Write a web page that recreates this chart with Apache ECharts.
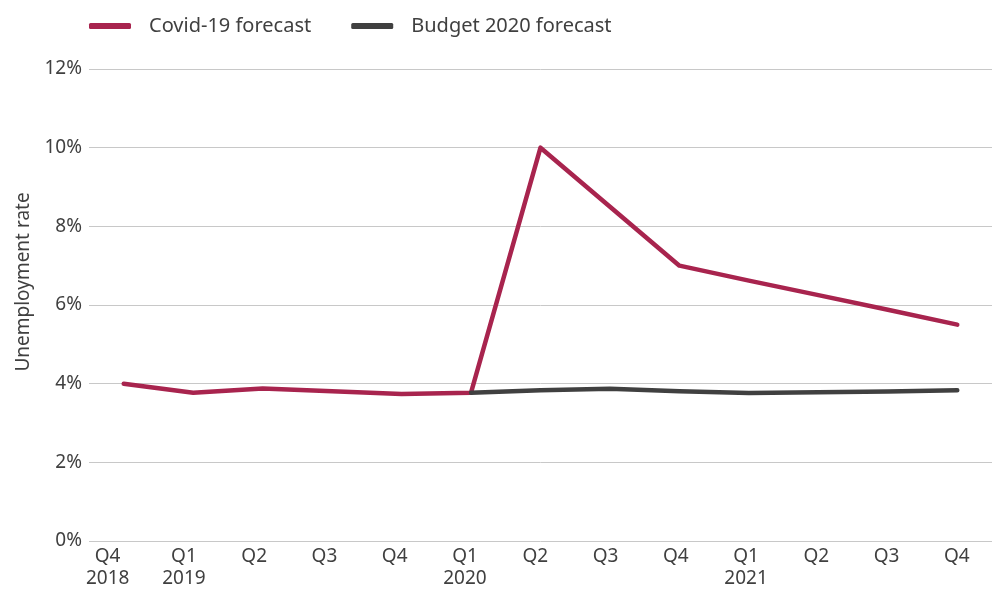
<!DOCTYPE html>
<html>
<head>
<meta charset="utf-8">
<script src="https://cdn.jsdelivr.net/npm/echarts@6/dist/echarts.min.js"></script>
<style>
html,body{margin:0;padding:0;background:#fff;}
#chart{width:992px;height:590px;}
</style>
</head>
<body>
<div id="chart"></div>
<script>
const categories = ['Q4\n2018','Q1\n2019','Q2','Q3','Q4','Q1\n2020','Q2','Q3','Q4','Q1\n2021','Q2','Q3','Q4'];
const covidForecast = [4.0, 3.77, 3.88, 3.81, 3.74, 3.77, 10.0, 8.5, 7.0, 6.62, 6.25, 5.88, 5.5];
const budgetForecast = [null, null, null, null, null, 3.77, 3.83, 3.87, 3.81, 3.76, 3.78, 3.8, 3.83];
const yTicks = [0, 2, 4, 6, 8, 10, 12];

const chart = echarts.init(document.getElementById('chart'));
const font = 'Noto Sans';
const labelColor = '#404040';
chart.setOption({
  animation: false,
  backgroundColor: '#fff',
  textStyle: {fontFamily: font},
  legend: {
    left: 84, top: 11,
    itemWidth: 42, itemHeight: 6, itemGap: 40,
    icon: 'roundRect',
    textStyle: {fontSize: 20, color: labelColor, fontFamily: font, padding: [0,0,0,13]},
    data: ['Covid-19 forecast', 'Budget 2020 forecast']
  },
  grid: [
    {left: 89, width: 907, top: 69, height: 472},
    {left: 78.5, width: 914, top: 69, height: 472}
  ],
  xAxis: [
    {
      type: 'category', gridIndex: 0,
      data: categories,
      boundaryGap: true,
      axisLine: {show: false},
      axisTick: {show: false},
      axisLabel: {show: false}
    },
    {
      type: 'category', gridIndex: 1,
      data: categories,
      boundaryGap: true,
      axisLine: {show: false},
      axisTick: {show: false},
      splitLine: {show: false},
      axisLabel: {
        interval: 0,
        color: labelColor, fontSize: 19, fontFamily: font, lineHeight: 22.5, margin: 7,
        formatter: function (v, i) {
          return i === 0 ? v.split('\n').map(function (s) { return '{first|' + s + '}'; }).join('\n') : v;
        },
        rich: {
          first: {color: labelColor, fontSize: 19, fontFamily: font, lineHeight: 22.5, padding: [0, 12, 0, 0]}
        }
      }
    }
  ],
  yAxis: [
    {
      type: 'value', gridIndex: 0,
      min: 0, max: 12, interval: 2,
      name: 'Unemployment rate',
      nameLocation: 'middle',
      nameGap: 54,
      nameTextStyle: {color: labelColor, fontSize: 19, fontFamily: font, padding: [0, 0, 0, 46]},
      axisLine: {show: false},
      axisTick: {show: false},
      splitLine: {lineStyle: {color: '#c8c8c8', width: 1}},
      axisLabel: {
        color: labelColor, fontSize: 19, fontFamily: font, margin: 7,
        formatter: function (v) { return yTicks.indexOf(v) >= 0 ? v + '%' : ''; }
      }
    },
    {
      type: 'value', gridIndex: 1, min: 0, max: 12, show: false,
      splitLine: {show: false}
    }
  ],
  series: [
    {
      name: 'Budget 2020 forecast', type: 'line', data: budgetForecast,
      xAxisIndex: 0, yAxisIndex: 0,
      showSymbol: false, symbol: 'none',
      lineStyle: {color: '#404040', width: 4.5, cap: 'round', join: 'round'},
      itemStyle: {color: '#404040'}, z: 2
    },
    {
      name: 'Covid-19 forecast', type: 'line', data: covidForecast,
      xAxisIndex: 0, yAxisIndex: 0,
      showSymbol: false, symbol: 'none',
      lineStyle: {color: '#a8244e', width: 4.5, cap: 'round', join: 'round'},
      itemStyle: {color: '#a8244e'}, z: 1
    }
  ]
});
</script>
</body>
</html>
